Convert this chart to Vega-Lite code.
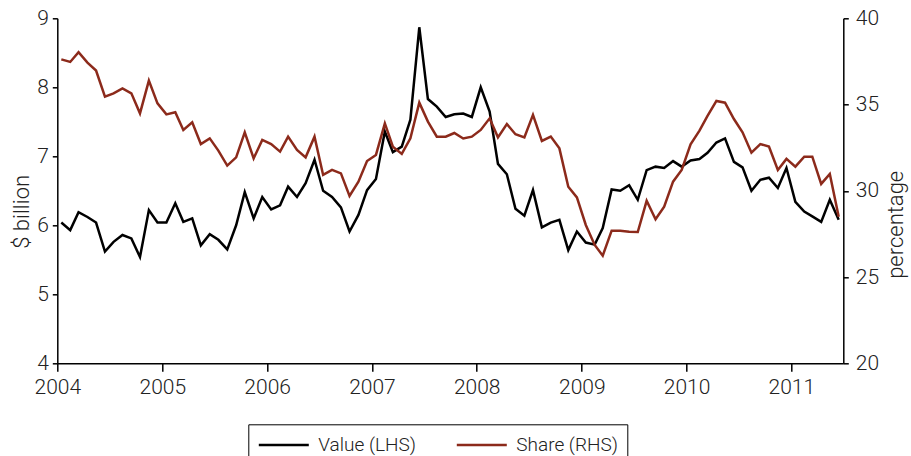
{
  "$schema": "https://vega.github.io/schema/vega-lite/v6.json",
  "width": 786,
  "height": 345,
  "autosize": {"type": "none"},
  "padding": {"left": 57.3, "top": 18.3, "right": 67.7, "bottom": 92.7},
  "background": "white",
  "config": {
    "view": {"stroke": null},
    "font": "Roboto",
    "axis": {
      "labelFont": "Roboto",
      "labelFontWeight": 300,
      "labelFontSize": 21,
      "labelColor": "#222222",
      "titleFont": "Roboto",
      "titleFontWeight": 300,
      "titleFontSize": 22,
      "titleColor": "#222222",
      "domainColor": "#000000",
      "domainWidth": 1.5,
      "tickColor": "#000000",
      "tickWidth": 1.5,
      "grid": false
    },
    "legend": {
      "labelFont": "Roboto",
      "labelFontWeight": 300,
      "labelFontSize": 19,
      "labelColor": "#222222",
      "strokeWidth": 1
    }
  },
  "data": {
    "values": [
      {"date": "2004-01-15", "value": 6.04, "share": 37.62},
      {"date": "2004-02-15", "value": 5.93, "share": 37.47},
      {"date": "2004-03-15", "value": 6.19, "share": 38.03},
      {"date": "2004-04-15", "value": 6.12, "share": 37.43},
      {"date": "2004-05-15", "value": 6.04, "share": 36.97},
      {"date": "2004-06-15", "value": 5.62, "share": 35.46},
      {"date": "2004-07-15", "value": 5.76, "share": 35.65},
      {"date": "2004-08-15", "value": 5.86, "share": 35.94},
      {"date": "2004-09-15", "value": 5.81, "share": 35.65},
      {"date": "2004-10-15", "value": 5.54, "share": 34.49},
      {"date": "2004-11-15", "value": 6.22, "share": 36.39},
      {"date": "2004-12-15", "value": 6.04, "share": 35.07},
      {"date": "2005-01-15", "value": 6.04, "share": 34.43},
      {"date": "2005-02-15", "value": 6.32, "share": 34.55},
      {"date": "2005-03-15", "value": 6.05, "share": 33.53},
      {"date": "2005-04-15", "value": 6.10, "share": 33.97},
      {"date": "2005-05-15", "value": 5.71, "share": 32.71},
      {"date": "2005-06-15", "value": 5.87, "share": 33.04},
      {"date": "2005-07-15", "value": 5.79, "share": 32.33},
      {"date": "2005-08-15", "value": 5.65, "share": 31.46},
      {"date": "2005-09-15", "value": 6.00, "share": 31.94},
      {"date": "2005-10-15", "value": 6.48, "share": 33.39},
      {"date": "2005-11-15", "value": 6.10, "share": 31.88},
      {"date": "2005-12-15", "value": 6.41, "share": 32.95},
      {"date": "2006-01-15", "value": 6.23, "share": 32.71},
      {"date": "2006-02-15", "value": 6.29, "share": 32.27},
      {"date": "2006-03-15", "value": 6.56, "share": 33.14},
      {"date": "2006-04-15", "value": 6.41, "share": 32.37},
      {"date": "2006-05-15", "value": 6.61, "share": 31.94},
      {"date": "2006-06-15", "value": 6.95, "share": 33.14},
      {"date": "2006-07-15", "value": 6.50, "share": 30.92},
      {"date": "2006-08-15", "value": 6.41, "share": 31.21},
      {"date": "2006-09-15", "value": 6.26, "share": 31.01},
      {"date": "2006-10-15", "value": 5.91, "share": 29.70},
      {"date": "2006-11-15", "value": 6.15, "share": 30.53},
      {"date": "2006-12-15", "value": 6.51, "share": 31.73},
      {"date": "2007-01-15", "value": 6.67, "share": 32.08},
      {"date": "2007-02-15", "value": 7.36, "share": 33.91},
      {"date": "2007-03-15", "value": 7.06, "share": 32.56},
      {"date": "2007-04-15", "value": 7.14, "share": 32.14},
      {"date": "2007-05-15", "value": 7.53, "share": 33.04},
      {"date": "2007-06-15", "value": 8.87, "share": 35.11},
      {"date": "2007-07-15", "value": 7.83, "share": 34.01},
      {"date": "2007-08-15", "value": 7.72, "share": 33.14},
      {"date": "2007-09-15", "value": 7.57, "share": 33.14},
      {"date": "2007-10-15", "value": 7.61, "share": 33.35},
      {"date": "2007-11-15", "value": 7.62, "share": 33.03},
      {"date": "2007-12-15", "value": 7.57, "share": 33.14},
      {"date": "2008-01-15", "value": 8.00, "share": 33.53},
      {"date": "2008-02-15", "value": 7.65, "share": 34.20},
      {"date": "2008-03-15", "value": 6.89, "share": 33.10},
      {"date": "2008-04-15", "value": 6.74, "share": 33.87},
      {"date": "2008-05-15", "value": 6.24, "share": 33.28},
      {"date": "2008-06-15", "value": 6.14, "share": 33.10},
      {"date": "2008-07-15", "value": 6.51, "share": 34.40},
      {"date": "2008-08-15", "value": 5.97, "share": 32.89},
      {"date": "2008-09-15", "value": 6.04, "share": 33.14},
      {"date": "2008-10-15", "value": 6.08, "share": 32.46},
      {"date": "2008-11-15", "value": 5.64, "share": 30.24},
      {"date": "2008-12-15", "value": 5.91, "share": 29.62},
      {"date": "2009-01-15", "value": 5.75, "share": 28.02},
      {"date": "2009-02-15", "value": 5.72, "share": 26.86},
      {"date": "2009-03-15", "value": 5.96, "share": 26.24},
      {"date": "2009-04-15", "value": 6.52, "share": 27.69},
      {"date": "2009-05-15", "value": 6.50, "share": 27.69},
      {"date": "2009-06-15", "value": 6.58, "share": 27.63},
      {"date": "2009-07-15", "value": 6.37, "share": 27.61},
      {"date": "2009-08-15", "value": 6.80, "share": 29.42},
      {"date": "2009-09-15", "value": 6.85, "share": 28.35},
      {"date": "2009-10-15", "value": 6.83, "share": 29.08},
      {"date": "2009-11-15", "value": 6.93, "share": 30.53},
      {"date": "2009-12-15", "value": 6.85, "share": 31.21},
      {"date": "2010-01-15", "value": 6.94, "share": 32.70},
      {"date": "2010-02-15", "value": 6.96, "share": 33.49},
      {"date": "2010-03-15", "value": 7.05, "share": 34.34},
      {"date": "2010-04-15", "value": 7.20, "share": 35.21},
      {"date": "2010-05-15", "value": 7.26, "share": 35.11},
      {"date": "2010-06-15", "value": 6.92, "share": 34.16},
      {"date": "2010-07-15", "value": 6.84, "share": 33.39},
      {"date": "2010-08-15", "value": 6.50, "share": 32.21},
      {"date": "2010-09-15", "value": 6.66, "share": 32.71},
      {"date": "2010-10-15", "value": 6.69, "share": 32.56},
      {"date": "2010-11-15", "value": 6.54, "share": 31.21},
      {"date": "2010-12-15", "value": 6.83, "share": 31.85},
      {"date": "2011-01-15", "value": 6.34, "share": 31.40},
      {"date": "2011-02-15", "value": 6.20, "share": 31.98},
      {"date": "2011-03-15", "value": 6.13, "share": 31.98},
      {"date": "2011-04-15", "value": 6.05, "share": 30.40},
      {"date": "2011-05-15", "value": 6.37, "share": 30.98},
      {"date": "2011-06-15", "value": 6.08, "share": 28.50}
    ]
  },
  "encoding": {
    "x": {
      "field": "date",
      "type": "temporal",
      "scale": {"domain": ["2004-01-01T00:00:00", "2011-07-01T00:00:00"]},
      "axis": {
        "title": null,
        "values": ["2004-01-01T00:00:00", "2005-01-01T00:00:00", "2006-01-01T00:00:00", "2007-01-01T00:00:00", "2008-01-01T00:00:00", "2009-01-01T00:00:00", "2010-01-01T00:00:00", "2011-01-01T00:00:00"],
        "format": "%Y",
        "tickSize": 8,
        "labelPadding": 5,
        "labelFlush": false,
        "labelOverlap": false
      }
    }
  },
  "layer": [
    {
      "mark": {"type": "line", "strokeWidth": 2.5},
      "encoding": {
        "y": {
          "field": "value",
          "type": "quantitative",
          "scale": {"domain": [4, 9], "nice": false, "zero": false},
          "axis": {
            "orient": "left",
            "title": "$ billion",
            "values": [4, 5, 6, 7, 8, 9],
            "tickSize": 5,
            "labelPadding": 4,
            "titleAngle": 270,
            "titleBaseline": "alphabetic",
            "titleAlign": "center",
            "titleX": -29,
            "titleY": 193
          }
        },
        "color": {
          "datum": "Value (LHS)",
          "type": "nominal",
          "scale": {"domain": ["Value (LHS)", "Share (RHS)"], "range": ["#000000", "#8c2a1b"]},
          "legend": {
            "orient": "none",
            "legendX": 191,
            "legendY": 406,
            "direction": "horizontal",
            "title": null,
            "symbolType": "M-1,0H4",
            "symbolSize": 400,
            "symbolStrokeWidth": 2.5,
            "labelOffset": 38,
            "columnPadding": 35,
            "padding": 9,
            "strokeColor": "#000000"
          }
        }
      }
    },
    {
      "mark": {"type": "line", "strokeWidth": 2.5},
      "encoding": {
        "y": {
          "field": "share",
          "type": "quantitative",
          "scale": {"domain": [20, 40], "nice": false, "zero": false},
          "axis": {
            "orient": "right",
            "title": "percentage",
            "values": [20, 25, 30, 35, 40],
            "tickSize": 5,
            "labelPadding": 7,
            "titleAngle": 270,
            "titleBaseline": "alphabetic",
            "titleAlign": "center",
            "titleX": 59,
            "titleY": 206
          }
        },
        "color": {"datum": "Share (RHS)", "type": "nominal"}
      }
    }
  ],
  "resolve": {"scale": {"y": "independent"}, "axis": {"y": "independent"}}
}
